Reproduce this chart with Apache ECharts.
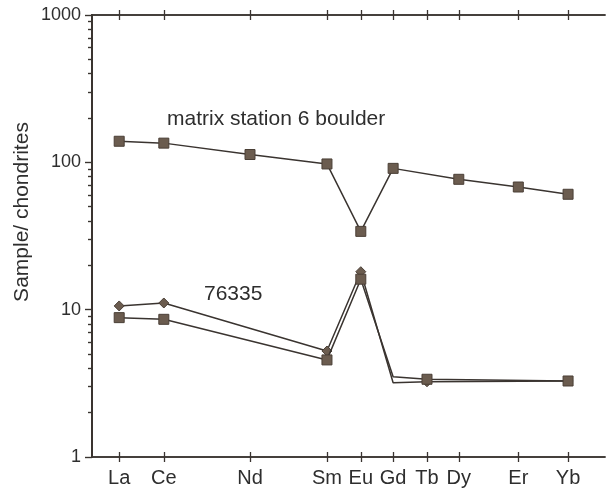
<!DOCTYPE html>
<html>
<head>
<meta charset="utf-8">
<script src="https://cdn.jsdelivr.net/npm/echarts@6/dist/echarts.min.js"></script>
<style>
  html, body { margin: 0; padding: 0; background: #fff; }
  #chart { width: 614px; height: 496px; }
</style>
</head>
<body>
<div id="chart"></div>
<script>
// REE elements and where they sit along the x axis (axis units 0..100)
const elements = ['La', 'Ce', 'Nd', 'Sm', 'Eu', 'Gd', 'Tb', 'Dy', 'Er', 'Yb'];
const elementX = [5.3, 14.0, 30.8, 45.8, 52.4, 58.7, 65.3, 71.5, 83.1, 92.8];

// sample / chondrite values (null = not measured)
const matrixBoulder = [139, 135, 113, 97.5, 34, 91, null, 76.7, 68, 60.7];
const s76335Diamond = [10.6, 11.1, null, 5.24, 18.1, 3.19, 3.24, null, null, 3.28];
const s76335Square = [8.83, 8.6, null, 4.56, 16.1, 3.51, 3.37, null, null, 3.28];
const noMarker = ['Gd']; // lower curves bend at Gd without a symbol

const yMajor = [1, 10, 100, 1000];
const yMinor = [2, 3, 4, 5, 6, 7, 8, 9, 20, 30, 40, 50, 60, 70, 80, 90, 200, 300, 400, 500, 600, 700, 800, 900];

const ink = '#3a3430';
const markFill = '#6b5c4f';
const font = 'Liberation Sans, Arial, sans-serif';

function toPoints(values, skipSymbol) {
  const out = [];
  values.forEach(function (v, i) {
    if (v == null) return;
    const item = { value: [elementX[i], v] };
    if (skipSymbol && noMarker.indexOf(elements[i]) >= 0) item.symbol = 'none';
    out.push(item);
  });
  return out;
}

function labelFor(v) {
  const i = elementX.indexOf(v);
  return i >= 0 ? elements[i] : '';
}

const lineStyle = { color: ink, width: 1.5 };
const itemStyle = { color: markFill, borderColor: '#4a3f36', borderWidth: 1 };

function xAx(position, inside, showLabel) {
  return {
    type: 'value', min: 0, max: 100, position: position,
    axisLine: { show: true, lineStyle: { color: ink, width: 1.5 } },
    axisTick: { show: true, inside: inside, length: 5, customValues: elementX, lineStyle: { color: ink, width: 1.3 } },
    axisLabel: showLabel ? {
      show: true, customValues: elementX, formatter: labelFor, margin: 11,
      color: '#2e2e2e', fontSize: 20, fontFamily: font
    } : { show: false },
    splitLine: { show: false }
  };
}

function yAx(position, ticks, len, showLabel) {
  return {
    type: 'log', min: 1, max: 1000, logBase: 10, position: position,
    axisLine: { show: true, lineStyle: { color: ink, width: 1.5 } },
    axisTick: { show: true, inside: position === 'right', length: len, customValues: ticks, lineStyle: { color: ink, width: 1.2 } },
    axisLabel: showLabel ? {
      show: true, customValues: yMajor, margin: 11,
      formatter: function (v) { return String(Math.round(v)); },
      color: '#2e2e2e', fontSize: 18, fontFamily: font
    } : { show: false },
    splitLine: { show: false },
    minorTick: { show: false }
  };
}

const chart = echarts.init(document.getElementById('chart'));
chart.setOption({
  backgroundColor: '#fff',
  animation: false,
  grid: { left: 92, right: 9, top: 15, bottom: 39 },
  xAxis: [
    xAx('bottom', false, true),
    xAx('bottom', true, false),
    xAx('top', false, false),
    xAx('top', true, false)
  ],
  yAxis: [
    Object.assign(yAx('left', yMajor, 7, true), {
      name: 'Sample/ chondrites', nameLocation: 'middle', nameGap: 59, nameMoveOverlap: false,
      nameTextStyle: { color: '#2e2e2e', fontSize: 21, fontFamily: font, padding: [0, 0, 0, 48] }
    }),
    yAx('left', yMinor, 4, false),
    yAx('right', yMajor, 7, false),
    yAx('right', yMinor, 4, false)
  ],
  series: [
    {
      name: 'matrix station 6 boulder', type: 'line', connectNulls: true,
      data: toPoints(matrixBoulder, false),
      symbol: 'rect', symbolSize: 10, lineStyle: lineStyle, itemStyle: itemStyle, z: 3
    },
    {
      name: '76335 a', type: 'line', connectNulls: true,
      data: toPoints(s76335Diamond, true),
      symbol: 'diamond', symbolSize: 10, lineStyle: lineStyle, itemStyle: itemStyle, z: 2
    },
    {
      name: '76335 b', type: 'line', connectNulls: true,
      data: toPoints(s76335Square, true),
      symbol: 'rect', symbolSize: 10, lineStyle: lineStyle, itemStyle: itemStyle, z: 3
    }
  ],
  graphic: [
    { type: 'text', left: 167, top: 109, style: { text: 'matrix station 6 boulder', font: '21px ' + font, fill: '#2e2e2e' } },
    { type: 'text', left: 204, top: 284, style: { text: '76335', font: '21px ' + font, fill: '#2e2e2e' } }
  ]
});
</script>
</body>
</html>
